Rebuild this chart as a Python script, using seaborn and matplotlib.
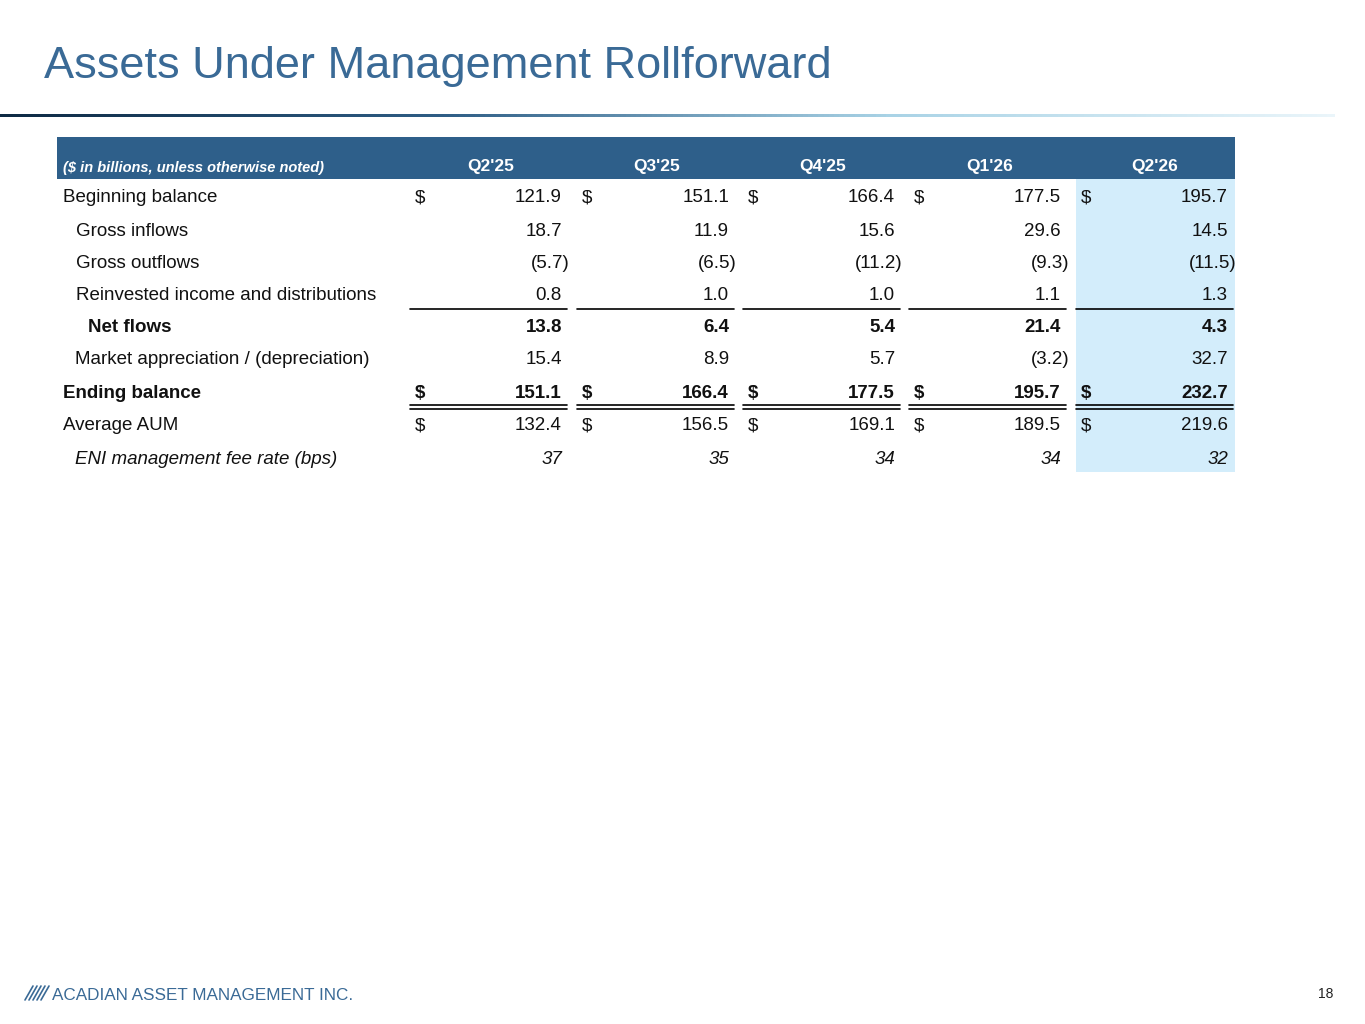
import matplotlib
matplotlib.use("Agg")
import matplotlib.pyplot as plt
import seaborn as sns
import numpy as np
from matplotlib.colors import LinearSegmentedColormap

sns.set_theme(style="white")
plt.rcParams['font.family'] = ['Liberation Sans', 'DejaVu Sans']

quarters = ["Q2'25", "Q3'25", "Q4'25", "Q1'26", "Q2'26"]
row_labels = ["Beginning balance", "Gross inflows", "Gross outflows",
              "Reinvested income and distributions", "Net flows",
              "Market appreciation / (depreciation)", "Ending balance",
              "Average AUM", "ENI management fee rate (bps)"]
beginning = [121.9, 151.1, 166.4, 177.5, 195.7]
inflows = [18.7, 11.9, 15.6, 29.6, 14.5]
outflows = [-5.7, -6.5, -11.2, -9.3, -11.5]
reinvested = [0.8, 1.0, 1.0, 1.1, 1.3]
net_flows = [13.8, 6.4, 5.4, 21.4, 4.3]
market = [15.4, 8.9, 5.7, -3.2, 32.7]
ending = [151.1, 166.4, 177.5, 195.7, 232.7]
avg_aum = [132.4, 156.5, 169.1, 189.5, 219.6]
fee_rate = [37, 35, 34, 34, 32]

rows = [beginning, inflows, outflows, reinvested, net_flows, market, ending, avg_aum, fee_rate]
indent = [63, 76, 76, 76, 88, 75, 63, 63, 75]
bold = [False, False, False, False, True, False, True, False, False]
italic = [False]*8 + [True]
dollar = [True, False, False, False, False, False, True, True, False]

fig = plt.figure(figsize=(13.65, 10.24), dpi=100)
ax = fig.add_axes([0, 0, 1, 1])
ax.set_xlim(0, 1365); ax.set_ylim(1024, 0); ax.axis('off')

blue = '#3A6A96'
ax.text(44, 78, "Assets Under Management Rollforward", fontsize=32.5, color=blue, va='baseline')
grad = np.linspace(0, 1, 256)[None, :]
cm = LinearSegmentedColormap.from_list('g', ['#0E2A44', '#2F5E86', '#A9D3E6', '#EAF5FA'])
ax.imshow(grad, cmap=cm, extent=[0, 1335, 117.5, 114.5], aspect='auto')

ax.add_patch(plt.Rectangle((57, 137), 1178, 42, color='#2E5F8A', lw=0))
ax.text(63, 172, "($ in billions, unless otherwise noted)", fontsize=10.5, color='white',
        style='italic', weight='bold', va='baseline')
col_l = [410, 577, 743, 909, 1076]
col_w = 159
centers = [491, 657, 823, 990, 1155]
for q, c in zip(quarters, centers):
    ax.text(c, 171, q, fontsize=12.5, color='white', weight='bold', ha='center', va='baseline')

ax.add_patch(plt.Rectangle((1076, 179), 159, 293, color='#D3EDFB', lw=0))

row_y = [196, 229, 261, 293, 326, 358, 391, 424, 457]
for i, (lab, vals) in enumerate(zip(row_labels, rows)):
    y = row_y[i] + 6.5
    kw = dict(fontsize=13.5, color='#111111', va='baseline',
              weight='bold' if bold[i] else 'normal',
              style='italic' if italic[i] else 'normal')
    ax.text(indent[i], y, lab, **kw)
    for j, v in enumerate(vals):
        right = col_l[j] + 152
        if dollar[i]:
            ax.text(col_l[j] + 5, y, "$", **kw)
        if isinstance(v, int):
            s = f"{v}"
        elif v < 0:
            s = f"({-v:.1f})"
        else:
            s = f"{v:.1f}"
        if s.startswith('('):
            right += 8
        ax.text(right, y, s, ha='right', **kw)

for l in col_l:
    ax.plot([l, l + col_w - 2], [309, 309], color='black', lw=1.2)
    ax.plot([l, l + col_w - 2], [405, 405], color='black', lw=1.2)
    ax.plot([l, l + col_w - 2], [409, 409], color='black', lw=1.2)

for k in range(5):
    x0 = 25 + k * 4
    ax.plot([x0, x0 + 8], [1000, 986], color=blue, lw=1.2)
ax.text(52, 1000, "ACADIAN ASSET MANAGEMENT INC.", fontsize=12.3, color=blue, va='baseline')
ax.text(1333, 998, "18", fontsize=10, color='#222222', ha='right', va='baseline')

fig.savefig("out.png", dpi=100)
